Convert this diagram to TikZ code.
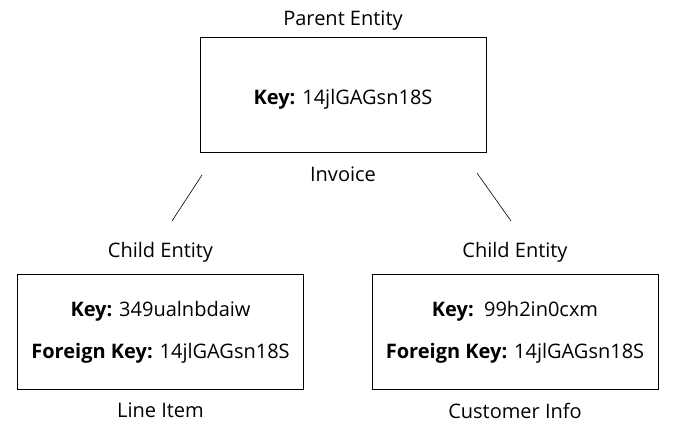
\documentclass[tikz,border=0pt]{standalone}
\usepackage{fontspec}
\setmainfont{Open Sans}
\usetikzlibrary{positioning}

\begin{document}
\begin{tikzpicture}[
    x=1pt, y=-1pt,
    entitybox/.style={draw, line width=0.8pt, rectangle, minimum width=286pt, minimum height=115pt,
        align=center, font=\fontsize{20}{42}\selectfont},
    tag/.style={font=\fontsize{20}{22}\selectfont, label distance=1pt},
    link/.style={line width=0.6pt}
    ]
    \useasboundingbox (0,0) rectangle (677,434);
    %Nodes
    \node[entitybox, text height=25pt, text depth=5pt] (invoice) at (343,94.5)
        [label={[tag, label distance=3pt]above:Parent Entity}, label={[tag, label distance=11pt]below:Invoice}]
        {\textbf{Key:} 14jlGAGsn18S};
    \node[entitybox] (lineitem) [below=122pt of invoice, xshift=-182.5pt]
        [label={[tag, label distance=9pt]above:Child Entity}, label={[tag, label distance=9pt]below:Line Item}]
        {\textbf{Key:} 349ualnbdaiw\\ \textbf{Foreign Key:} 14jlGAGsn18S};
    \node[entitybox] (customer) [below=122pt of invoice, xshift=172pt]
        [label={[tag, label distance=9pt]above:Child Entity}, label={[tag, label distance=9pt]below:Customer Info}]
        {\textbf{Key:}\ \ 99h2in0cxm\\ \textbf{Foreign Key:} 14jlGAGsn18S};

    \coordinate (invoiceL) at (202,175);
    \coordinate (invoiceR) at (477,173);
    \coordinate (lineitemT) at (172,221);
    \coordinate (customerT) at (511,221);

    %Lines
    \draw[link] (invoiceL) -- (lineitemT);
    \draw[link] (invoiceR) -- (customerT);
\end{tikzpicture}
\end{document}
